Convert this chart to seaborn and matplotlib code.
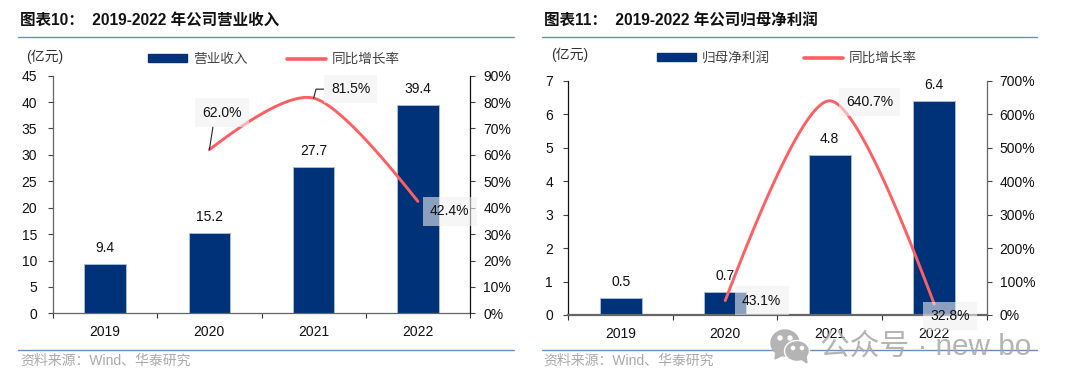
import matplotlib
matplotlib.use("Agg")
import matplotlib.pyplot as plt
import seaborn as sns
import numpy as np
from matplotlib.lines import Line2D
from matplotlib.patches import Ellipse, Patch, Polygon

sns.set_theme(style="ticks")
plt.rcParams['font.family'] = ['Liberation Sans', 'Noto Sans CJK SC']
plt.rcParams['axes.unicode_minus'] = False

W, H = 1078, 389
NAVY = "#00327a"
RED = "#ff5f63"
RULE = "#6a8fbd"

years = ["2019", "2020", "2021", "2022"]

# left chart
revenue = [9.4, 15.2, 27.7, 39.4]
revenue_growth = [62.0, 81.5, 42.4]
# right chart
profit = [0.5, 0.7, 4.8, 6.4]
profit_growth = [43.1, 640.7, 32.8]


def smooth(xs, ys, n=60):
    # same kind of bezier smoothing the office charts use, only for drawing
    p = np.column_stack([xs, ys]).astype(float)
    k = 0.13
    tan = (p[2] - p[0]) * k
    segs = [(p[0], p[0] + (p[1] - tan - p[0]) * 0.3, p[1] - tan, p[1]),
            (p[1], p[1] + tan, p[2] + (p[1] + tan - p[2]) * 0.3, p[2])]
    out = []
    for a, b, c, d in segs:
        t = np.linspace(0, 1, n)[:, None]
        out.append((1-t)**3*a + 3*(1-t)**2*t*b + 3*(1-t)*t**2*c + t**3*d)
    out = np.vstack(out)
    return out[:, 0], out[:, 1]


def rule(x0, x1, y, color=RULE, lw=1.0):
    fig.add_artist(Line2D([x0/W, x1/W], [1-y/H, 1-y/H], color=color, lw=lw))


def px_text(x, y, s, **kw):
    kw.setdefault("va", "center")
    fig.text(x/W, 1-y/H, s, **kw)


def panel(box, vals, growth, ymax, ystep, gmax, gstep, y_pad, r_pad, left_c, right_c, bottom_lw):
    x0, x1, ytop, ybot = box
    rect = [x0/W, 1-ybot/H, (x1-x0)/W, (ybot-ytop)/H]
    ax = fig.add_axes(rect)
    sns.barplot(x=years, y=vals, color=NAVY, saturation=1, width=0.4,
                edgecolor="#a9bbd6", linewidth=0.7, ax=ax)
    ax.set_xlim(-0.5, 3.5)
    ax.set_ylim(0, ymax)
    ax.set_yticks(np.arange(0, ymax+ystep/2, ystep))
    ax.set_xticks(np.arange(-0.5, 4, 1))
    ax.set_xticklabels([])
    ax.set_xticks(range(4), years, minor=True)
    ax.tick_params(axis="x", which="major", length=3.5, width=0.8, color="#333333")
    ax.tick_params(axis="x", which="minor", length=0, pad=8.5, labelsize=10, labelcolor="#111111")
    ax.tick_params(axis="y", length=3.5, width=0.8, pad=y_pad, labelsize=10, color="#444444", labelcolor="#111111")
    ax.set_xlabel("")
    ax.set_ylabel("")
    for s in ["top", "right"]:
        ax.spines[s].set_visible(False)
    ax.spines["left"].set_color(left_c)
    ax.spines["left"].set_linewidth(0.9)
    ax.spines["bottom"].set_color("#666666")
    ax.spines["bottom"].set_linewidth(bottom_lw)
    for i, v in enumerate(vals):
        ax.annotate(f"{v:.1f}", (i, v), xytext=(0, 11.5), textcoords="offset points",
                    ha="center", va="center", fontsize=10, color="#111111")

    ax2 = ax.twinx()
    gx, gy = smooth([1, 2, 3], growth)
    sns.lineplot(x=gx, y=gy, color=RED, lw=2.1, sort=False, estimator=None, ax=ax2, legend=False)
    ax2.set_ylim(0, gmax)
    ax2.set_xlim(-0.5, 3.5)
    ax2.set_yticks(np.arange(0, gmax+gstep/2, gstep))
    ax2.set_yticklabels([f"{int(t)}%" for t in np.arange(0, gmax+gstep/2, gstep)])
    ax2.tick_params(axis="y", length=3.5, width=0.8, pad=r_pad, labelsize=10, color="#444444", labelcolor="#111111")
    ax2.set_ylabel("")
    for s in ["top", "left", "bottom"]:
        ax2.spines[s].set_visible(False)
    ax2.spines["right"].set_color(right_c)
    ax2.spines["right"].set_linewidth(0.9)

    handles = [Patch(facecolor=NAVY, edgecolor=NAVY), Line2D([], [], color=RED, lw=2.6)]
    return ax, ax2, handles


def growth_label(ax2, i, value, dx, dy, arrow=None):
    # dx, dy in pixels from the point
    ax2.annotate(f"{value:.1f}%", (i, value), xytext=(dx*0.72, dy*0.72), textcoords="offset points",
                 ha="center", va="center", fontsize=10, color="#111111", zorder=6,
                 bbox=dict(boxstyle="square,pad=0.52", fc="#f1f1f1", ec="none", alpha=0.58),
                 arrowprops=arrow)


fig = plt.figure(figsize=(W/100, H/100), dpi=100)

# left chart
ax, ax2, hs = panel((53, 470, 75.7, 313.3), revenue, revenue_growth, 45, 5, 90, 10,
                    8, 6, "#666666", "#111111", 0.9)
growth_label(ax2, 1, revenue_growth[0], 12.6, 37,
             dict(arrowstyle="-", color="#222222", lw=0.8, shrinkA=0, shrinkB=0, relpos=(0.3, 0)))
growth_label(ax2, 2, revenue_growth[1], 37, 9,
             dict(arrowstyle="-", color="#222222", lw=0.8, shrinkA=0, shrinkB=0, relpos=(0, 0.5),
                  connectionstyle="angle,angleA=180,angleB=75,rad=0"))
growth_label(ax2, 3, revenue_growth[2], 31.7, -10)
ax2.legend(hs, ["营业收入", "同比增长率"], ncol=2, frameon=False, loc="center",
           bbox_to_anchor=(274/W, 1-59/H), bbox_transform=fig.transFigure,
           fontsize=9.8, handlelength=2.87, handleheight=0.55, handletextpad=0.4, columnspacing=2.94,
           labelcolor="#444444", borderpad=0, borderaxespad=0)

# right chart
ax, ax2, hs = panel((568.4, 986.5, 81, 315), profit, profit_growth, 7, 1, 700, 100,
                    7.5, 6, "#111111", "#666666", 1.6)
growth_label(ax2, 1, profit_growth[0], 36.5, 0)
growth_label(ax2, 2, profit_growth[1], 40, -1)
growth_label(ax2, 3, profit_growth[2], 16, -12)
ax2.legend(hs, ["归母净利润", "同比增长率"], ncol=2, frameon=False, loc="center",
           bbox_to_anchor=(787/W, 1-58/H), bbox_transform=fig.transFigure,
           fontsize=9.8, handlelength=2.87, handleheight=0.55, handletextpad=0.4, columnspacing=2.5,
           labelcolor="#444444", borderpad=0, borderaxespad=0)

# titles, rules, sources
px_text(20, 21, "图表10：  2019-2022 年公司营业收入", fontsize=11.2, fontweight="bold", color="#111111")
px_text(544, 21, "图表11：  2019-2022 年公司归母净利润", fontsize=11.2, fontweight="bold", color="#111111")
rule(18, 514, 36.5)
rule(542, 1037, 36.5)
rule(18, 514, 349.7)
rule(542, 1037, 349.7)
px_text(26, 57, "(亿元)", fontsize=10, color="#333333")
px_text(551, 55, "(亿元)", fontsize=10, color="#333333")
px_text(20, 361, "资料来源：Wind、华泰研究", fontsize=10, color="#aaaaaa")
px_text(543, 361, "资料来源：Wind、华泰研究", fontsize=10, color="#aaaaaa")

# watermark
wm = "#b4b4b4"
fig.add_artist(Ellipse((785/W, 1-343/H), 28/W, 26/H, color=wm, zorder=10))
fig.add_artist(Polygon([[(776/W), 1-352/H], [(775/W), 1-359/H], [(783/W), 1-355/H]], color=wm, zorder=10))
fig.add_artist(Ellipse((797/W, 1-351/H), 25/W, 21/H, fc=wm, ec="white", lw=1.0, zorder=11))
fig.add_artist(Polygon([[(801/W), 1-359/H], [(807/W), 1-363/H], [(806/W), 1-356/H]], color=wm, zorder=11))
for ex, ey, er in [(780, 338, 2.0), (790, 338, 2.0), (793, 348, 1.6), (802, 348, 1.6)]:
    fig.add_artist(Ellipse((ex/W, 1-ey/H), 2*er/W, 2*er/H, color="white", zorder=12))
px_text(820, 347, "公众号 · new bo", fontsize=21.4, color="#a8a8a8", alpha=0.85, zorder=12)

plt.savefig("out.png", dpi=100)
